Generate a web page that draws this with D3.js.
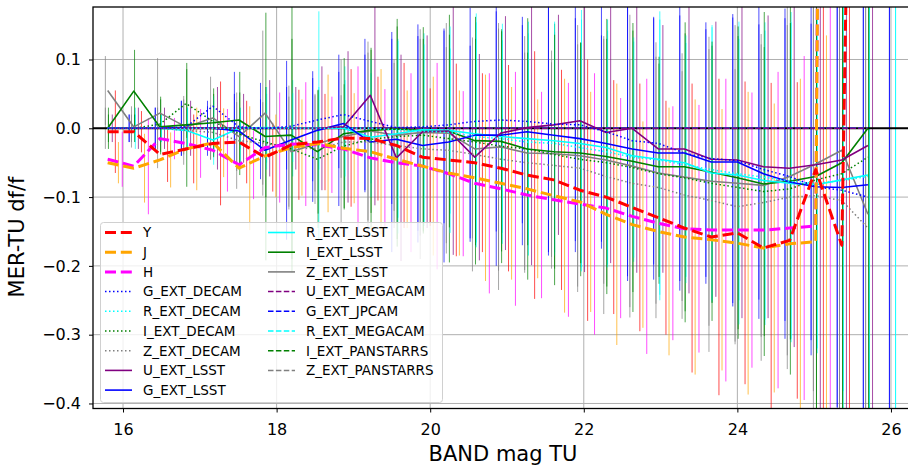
<!DOCTYPE html>
<html>
<head>
<meta charset="utf-8">
<script src="https://cdn.jsdelivr.net/npm/d3@7"></script>
<style>
  body { margin: 0; background: #fff; }
  svg { display: block; }
  text { font-family: "DejaVu Sans", sans-serif; fill: #000; }
</style>
</head>
<body>
<svg id="chart" width="908" height="468"></svg>
<script>
// Magnitude bin centres shared by all bands
const magBins = [15.80, 16.14, 16.48, 16.82, 17.17, 17.51, 17.85, 18.19, 18.53, 18.87,
                 19.22, 19.56, 19.90, 20.24, 20.58, 20.92, 21.26, 21.61, 21.95, 22.29,
                 22.63, 22.97, 23.31, 23.66, 24.00, 24.34, 24.68, 25.02, 25.36, 25.70];

const seriesNames = ["Y", "J", "H",
  "G_EXT_DECAM", "R_EXT_DECAM", "I_EXT_DECAM", "Z_EXT_DECAM",
  "U_EXT_LSST", "G_EXT_LSST", "R_EXT_LSST", "I_EXT_LSST", "Z_EXT_LSST",
  "U_EXT_MEGACAM", "G_EXT_JPCAM", "R_EXT_MEGACAM", "I_EXT_PANSTARRS", "Z_EXT_PANSTARRS"];

// Median relative flux difference per bin
const valY  = [-0.005,-0.005,-0.038,-0.030,-0.022,-0.020,-0.042,-0.024,-0.020,-0.014,-0.015,-0.025,-0.042,-0.046,-0.050,-0.058,-0.068,-0.075,-0.090,-0.100,-0.115,-0.130,-0.145,-0.158,-0.152,-0.174,-0.163,-0.060,-0.170,2.10];
const valJ  = [-0.050,-0.058,-0.046,-0.030,-0.021,-0.058,-0.040,-0.028,-0.022,-0.029,-0.034,-0.045,-0.055,-0.065,-0.072,-0.080,-0.088,-0.098,-0.107,-0.125,-0.140,-0.150,-0.158,-0.162,-0.167,-0.174,-0.168,-0.165,5.0];
const valH  = [-0.045,-0.055,-0.015,-0.022,-0.032,-0.053,-0.028,-0.023,-0.024,-0.030,-0.043,-0.050,-0.055,-0.066,-0.080,-0.088,-0.097,-0.104,-0.110,-0.116,-0.128,-0.138,-0.146,-0.148,-0.148,-0.148,-0.145,-0.142,5.0];
const valGDecam = [0,0,0,0.002,0.032,0.002,0,0.003,0.012,0.020,0.010,0.001,0.002,0.005,0.010,0.012,0.010,0.006,0.005,-0.005,-0.018,-0.022,-0.036,-0.044,-0.047,-0.060,-0.070,-0.085,-0.090,-0.100];
const valRDecam = [0,0,0,0,0,0,0,0,0,0,0,-0.002,-0.004,-0.006,-0.012,-0.015,-0.020,-0.022,-0.028,-0.034,-0.042,-0.046,-0.053,-0.060,-0.066,-0.071,-0.077,-0.080,-0.076,-0.070];
const valIDecam = [0,0,0.006,0.036,0.010,-0.008,-0.020,-0.030,-0.045,-0.026,-0.016,-0.012,-0.010,-0.015,-0.020,-0.026,-0.030,-0.038,-0.045,-0.050,-0.057,-0.066,-0.072,-0.080,-0.086,-0.092,-0.088,-0.075,-0.066,-0.042];
const valZDecam = [0,0,0,-0.003,-0.006,-0.018,-0.022,-0.028,-0.030,-0.020,-0.020,-0.025,-0.030,-0.032,-0.038,-0.045,-0.050,-0.054,-0.058,-0.070,-0.080,-0.086,-0.097,-0.105,-0.114,-0.108,-0.100,-0.098,-0.105,-0.145];
const valULsst  = [0,0,0,0,0,0,0,0,0,0.002,0.048,-0.043,-0.005,-0.004,-0.042,-0.007,0.001,0.005,0.011,-0.006,0,-0.030,-0.030,-0.045,-0.046,-0.056,-0.058,-0.053,-0.046,-0.025];
const valGLsst  = [0,0,0,0,0,-0.004,-0.032,-0.017,-0.003,0.007,-0.020,-0.016,-0.025,-0.020,-0.010,-0.010,-0.005,-0.010,-0.015,-0.022,-0.030,-0.036,-0.036,-0.049,-0.049,-0.066,-0.078,-0.085,-0.086,-0.082];
const valRLsst  = [0,0,0,-0.003,-0.017,0,0.001,0,0,0,-0.013,-0.008,-0.002,-0.003,-0.008,-0.012,-0.015,-0.018,-0.022,-0.028,-0.040,-0.045,-0.050,-0.065,-0.068,-0.076,-0.080,-0.082,-0.075,-0.068];
const valILsst  = [0,0.054,0.002,0.005,0.008,0.012,-0.012,-0.010,-0.034,-0.008,-0.003,-0.001,-0.003,-0.004,-0.018,-0.019,-0.030,-0.034,-0.036,-0.041,-0.048,-0.056,-0.056,-0.064,-0.072,-0.081,-0.077,-0.070,-0.050,0];
const valZLsst  = [0.055,0.002,0.022,0.002,0.015,-0.012,0.022,-0.034,-0.022,-0.012,-0.004,-0.010,-0.006,-0.007,-0.030,-0.027,-0.036,-0.037,-0.040,-0.046,-0.055,-0.065,-0.071,-0.077,-0.080,-0.083,-0.070,-0.052,-0.032,-0.125];
const valUMega  = [0,0,0,0,0,0,0,0,0,0,0,0,0,0,0,0,0,0,0,0,0,0,0,0,0,0,0,0,0,0];
const valGJpcam = [0,0,0,0,0,0,0,0,0,0,0,0,0,0,0,0,0,0,0,0,0,0,0,0,0,0,0,0,0,0];
const valRMega  = [0,0,0,0,0,0,0,0,0,0,0,0,0,0,0,0,0,0,0,0,0,0,0,0,0,0,0,0,0,0];
const valIPan   = [0,0,0,0,0,0,0,0,0,0,0,0,0,0,0,0,0,0,0,0,0,0,0,0,0,0,0,0,0,0];
const valZPan   = [0,0,0,0,0,0,0,0,0,0,0,0,0,0,0,0,0,0,0,0,0,0,0,0,0,0,0,0,0,0];

// Scatter (half length of the error bar) per bin
const errY  = [0.06,0.03,0.04,0.05,0.09,0.06,0.05,0.08,0.07,0.10,0.09,0.12,0.10,0.14,0.13,0.15,0.18,0.16,0.19,0.17,0.18,0.17,0.21,0.23,0.22,0.24,0.23,0.45,0.60,0.80];
const errJ  = [0.03,0.05,0.04,0.06,0.05,0.09,0.06,0.07,0.10,0.08,0.12,0.10,0.13,0.12,0.15,0.14,0.13,0.17,0.16,0.19,0.15,0.18,0.20,0.19,0.22,0.21,0.24,0.30,0.70];
const errH  = [0.04,0.07,0.03,0.05,0.06,0.05,0.08,0.09,0.07,0.12,0.10,0.13,0.15,0.12,0.16,0.17,0.15,0.17,0.19,0.16,0.20,0.17,0.18,0.22,0.20,0.23,0.25,0.32,0.70];
const errGDecam = [0.02,0.03,0.04,0.03,0.05,0.04,0.06,0.08,0.07,0.11,0.12,0.15,0.14,0.17,0.16,0.15,0.19,0.17,0.18,0.21,0.18,0.20,0.18,0.21,0.23,0.22,0.26,0.35,0.42,0.55];
const errRDecam = [0.02,0.02,0.03,0.04,0.03,0.05,0.07,0.06,0.09,0.08,0.13,0.14,0.12,0.16,0.14,0.17,0.16,0.18,0.17,0.16,0.20,0.17,0.20,0.19,0.22,0.24,0.25,0.33,0.45,0.60];
const errIDecam = [0.03,0.02,0.04,0.05,0.04,0.06,0.08,0.16,0.10,0.09,0.13,0.16,0.14,0.18,0.15,0.17,0.14,0.19,0.17,0.18,0.21,0.16,0.21,0.20,0.22,0.21,0.27,0.34,0.48,0.62];
const errZDecam = [0.03,0.02,0.03,0.05,0.04,0.07,0.06,0.09,0.08,0.12,0.13,0.12,0.16,0.15,0.17,0.19,0.16,0.15,0.18,0.20,0.18,0.19,0.18,0.22,0.20,0.23,0.25,0.31,0.44,0.58];
const errULsst  = [0.02,0.03,0.03,0.04,0.06,0.05,0.07,0.06,0.09,0.11,0.16,0.15,0.14,0.18,0.15,0.17,0.20,0.16,0.22,0.19,0.21,0.18,0.21,0.20,0.23,0.22,0.26,0.36,0.50,0.65];
const errGLsst  = [0.02,0.03,0.04,0.04,0.05,0.07,0.13,0.09,0.11,0.10,0.16,0.15,0.17,0.14,0.19,0.16,0.18,0.17,0.15,0.20,0.19,0.20,0.19,0.21,0.20,0.24,0.23,0.32,0.46,0.60];
const errRLsst  = [0.03,0.02,0.03,0.05,0.04,0.06,0.05,0.17,0.07,0.10,0.14,0.13,0.15,0.17,0.16,0.15,0.17,0.19,0.18,0.16,0.21,0.18,0.20,0.22,0.21,0.23,0.24,0.30,0.42,0.57];
const errILsst  = [0.02,0.06,0.04,0.09,0.05,0.07,0.18,0.20,0.09,0.11,0.12,0.16,0.15,0.14,0.18,0.16,0.19,0.17,0.16,0.20,0.19,0.16,0.21,0.19,0.22,0.25,0.23,0.34,0.47,0.63];
const errZLsst  = [0.05,0.03,0.08,0.04,0.06,0.05,0.12,0.08,0.07,0.06,0.13,0.11,0.15,0.16,0.13,0.18,0.17,0.15,0.19,0.18,0.22,0.19,0.18,0.21,0.23,0.22,0.26,0.33,0.45,0.59];

// Offset (in mag) at which each band's error bars sit inside a bin
const barShift = [0.10, 0.14, 0.19, 0.28, 0.36, 0.01, -0.03, 0.06, 0.28, 0.36, 0.01, -0.03];

const xTicks = [16, 18, 20, 22, 24, 26];
const yTicks = [-0.4, -0.3, -0.2, -0.1, 0.0, 0.1];

// ---- series assembly: values, errors and drawing style ----
const values = [valY, valJ, valH, valGDecam, valRDecam, valIDecam, valZDecam,
  valULsst, valGLsst, valRLsst, valILsst, valZLsst,
  valUMega, valGJpcam, valRMega, valIPan, valZPan];
const errors = [errY, errJ, errH, errGDecam, errRDecam, errIDecam, errZDecam,
  errULsst, errGLsst, errRLsst, errILsst, errZLsst];

const colors = ["#ff0000", "#ffa500", "#ff00ff",
  "#0000ff", "#00ffff", "#008000", "#808080",
  "#800080", "#0000ff", "#00ffff", "#008000", "#808080",
  "#800080", "#0000ff", "#00ffff", "#008000", "#808080"];
const styleOf = i => {
  if (i < 3)  return { w: 3,   dash: "11,4.8" };
  if (i < 7)  return { w: 1.5, dash: "1.5,2.5" };
  if (i < 12) return { w: 1.6, dash: null };
  return { w: 1.5, dash: "5.5,2.4" };
};

const series = seriesNames.map((name, i) => ({
  name, color: colors[i], style: styleOf(i),
  points: values[i].map((v, k) => ({ m: magBins[k], v, e: errors[i] ? errors[i][k] : null }))
}));

// ---- layout ----
const svg = d3.select("#chart");
const plotL = 93, plotT = 7, plotB = 408.5, plotR = 914;
const x = d3.scaleLinear().domain([15.609, 26.3]).range([plotL, plotR]);
const y = d3.scaleLinear().domain([-0.4073, 0.1763]).range([plotB, plotT]);

svg.append("defs").append("clipPath").attr("id", "plotClip")
  .append("rect").attr("x", plotL).attr("y", plotT)
  .attr("width", plotR - plotL).attr("height", plotB - plotT);

// grid
const grid = svg.append("g").attr("stroke", "#b0b0b0").attr("stroke-width", 1);
grid.selectAll("line.gx").data(xTicks).join("line")
  .attr("x1", d => x(d)).attr("x2", d => x(d)).attr("y1", plotT).attr("y2", plotB);
grid.selectAll("line.gy").data(yTicks).join("line")
  .attr("x1", plotL).attr("x2", plotR).attr("y1", d => y(d)).attr("y2", d => y(d));

const plot = svg.append("g").attr("clip-path", "url(#plotClip)");

// error bars
series.forEach((s, i) => {
  if (!errors[i]) return;
  plot.append("g").attr("stroke", s.color).attr("stroke-opacity", 0.7).attr("stroke-width", 1)
    .selectAll("line").data(s.points).join("line")
    .attr("x1", d => x(d.m + barShift[i])).attr("x2", d => x(d.m + barShift[i]))
    .attr("y1", d => y(d.v - d.e)).attr("y2", d => y(d.v + d.e));
});

// zero reference
plot.append("line").attr("x1", plotL).attr("x2", plotR)
  .attr("y1", y(0)).attr("y2", y(0)).attr("stroke", "#000").attr("stroke-width", 2);

// median curves
const line = d3.line().x(d => x(d.m)).y(d => y(d.v));
series.slice().reverse().forEach(s => {
  plot.append("path").datum(s.points).attr("d", line)
    .attr("fill", "none").attr("stroke", s.color)
    .attr("stroke-width", s.style.w)
    .attr("stroke-dasharray", s.style.dash)
    .attr("stroke-linejoin", "round");
});

// axes
const fmt = d3.format(".1f");
const xAxis = svg.append("g").attr("transform", `translate(0,${plotB})`)
  .call(d3.axisBottom(x).tickValues(xTicks).tickSize(4).tickPadding(11).tickFormat(d3.format("d")));
const yAxis = svg.append("g").attr("transform", `translate(${plotL},0)`)
  .call(d3.axisLeft(y).tickValues(yTicks).tickSize(4).tickPadding(8).tickFormat(fmt));
[xAxis, yAxis].forEach(a => {
  a.select(".domain").remove();
  a.selectAll(".tick line").attr("stroke", "#000").attr("stroke-width", 1);
  a.selectAll(".tick text").attr("font-size", 16).attr("font-family", "DejaVu Sans").attr("fill", "#000");
});

// spines
svg.append("rect").attr("x", plotL).attr("y", plotT)
  .attr("width", plotR - plotL).attr("height", plotB - plotT)
  .attr("fill", "none").attr("stroke", "#000").attr("stroke-width", 1.3);

// axis titles
svg.append("text").attr("x", 503).attr("y", 461).attr("text-anchor", "middle")
  .attr("font-size", 21).text("BAND mag TU");
svg.append("text").attr("transform", "translate(24,237) rotate(-90)").attr("text-anchor", "middle")
  .attr("font-size", 21).text("MER-TU df/f");

// legend
const leg = svg.append("g");
leg.append("rect").attr("x", 100.5).attr("y", 222.5).attr("width", 342).attr("height", 180)
  .attr("rx", 3).attr("fill", "#fff").attr("fill-opacity", 0.8)
  .attr("stroke", "#d0d0d0").attr("stroke-width", 1);
const perCol = 9, rowH = 19.7;
series.forEach((s, i) => {
  const col = i < perCol ? 0 : 1, row = i < perCol ? i : i - perCol;
  const hx = col === 0 ? 105 : 268, ty = 232.5 + row * rowH;
  leg.append("line").attr("x1", hx).attr("x2", hx + 27).attr("y1", ty).attr("y2", ty)
    .attr("stroke", s.color).attr("stroke-width", s.style.w)
    .attr("stroke-dasharray", s.style.dash);
  leg.append("text").attr("x", hx + 38).attr("y", ty).attr("dy", "0.36em")
    .attr("font-size", 13.5).text(s.name);
});
</script>
</body>
</html>
